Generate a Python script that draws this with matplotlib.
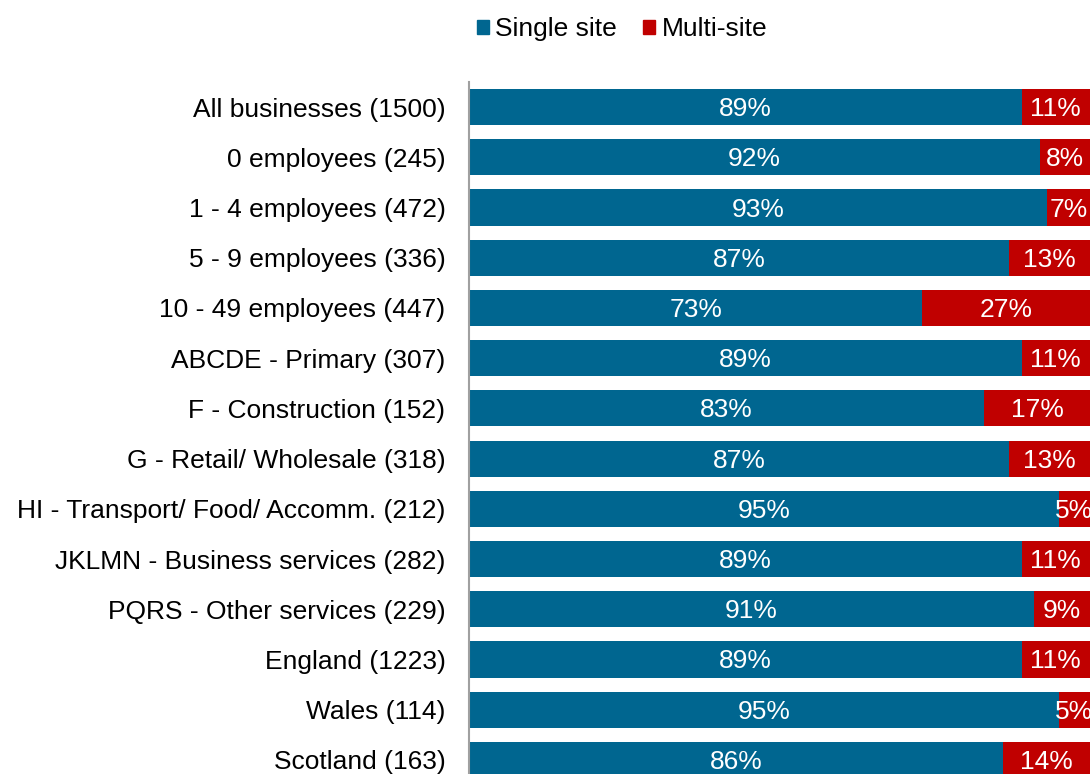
import matplotlib.pyplot as plt
from matplotlib.patches import Patch

plt.rcParams['font.family'] = ['Liberation Sans', 'DejaVu Sans']

categories = [
    "All businesses (1500)",
    "0 employees (245)",
    "1 - 4 employees (472)",
    "5 - 9 employees (336)",
    "10 - 49 employees (447)",
    "ABCDE - Primary (307)",
    "F - Construction (152)",
    "G - Retail/ Wholesale (318)",
    "HI - Transport/ Food/ Accomm. (212)",
    "JKLMN - Business services (282)",
    "PQRS - Other services (229)",
    "England (1223)",
    "Wales (114)",
    "Scotland (163)",
]
single_site = [89, 92, 93, 87, 73, 89, 83, 87, 95, 89, 91, 89, 95, 86]
multi_site = [11, 8, 7, 13, 27, 11, 17, 13, 5, 11, 9, 11, 5, 14]

BLUE = "#006690"
RED = "#C00000"
FS = 19

W, H = 1090, 774
fig = plt.figure(figsize=(W / 100, H / 100), dpi=100)
# axes box in pixels: left edge 469, top 82, runs past the bottom of the figure
ax = fig.add_axes([469 / W, 1 - 785 / H, (1090 - 469) / W, (785 - 82) / H])

ypos = list(range(len(categories)))
ax.barh(ypos, single_site, height=0.72, color=BLUE, edgecolor="none")
ax.barh(ypos, multi_site, left=single_site, height=0.72, color=RED, edgecolor="none")

for y, s, m in zip(ypos, single_site, multi_site):
    ax.text(s / 2, y + 0.04, f"{s}%", ha="center", va="center", color="white", fontsize=FS)
    ax.text(s + m / 2, y + 0.04, f"{m}%", ha="center", va="center", color="white", fontsize=FS)

ax.set_xlim(0, 100)
ax.set_ylim(len(categories) - 0.5, -0.5)
ax.set_yticks(ypos)
ax.set_yticklabels(categories, fontsize=FS)
ax.tick_params(axis="y", length=0, pad=17)
ax.set_xticks([])
for side in ["top", "right", "bottom"]:
    ax.spines[side].set_visible(False)
ax.spines["left"].set_color("#A0A0A0")
ax.spines["left"].set_linewidth(1.5)

handles = [Patch(color=BLUE, label="Single site"), Patch(color=RED, label="Multi-site")]
fig.legend(handles=handles, loc="center", bbox_to_anchor=(622 / W, 1 - 29 / H),
           ncol=2, frameon=False, fontsize=FS, handlelength=0.45, handleheight=0.45,
           handletextpad=0.25, columnspacing=1.0)

fig.savefig("out.png", dpi=100)
